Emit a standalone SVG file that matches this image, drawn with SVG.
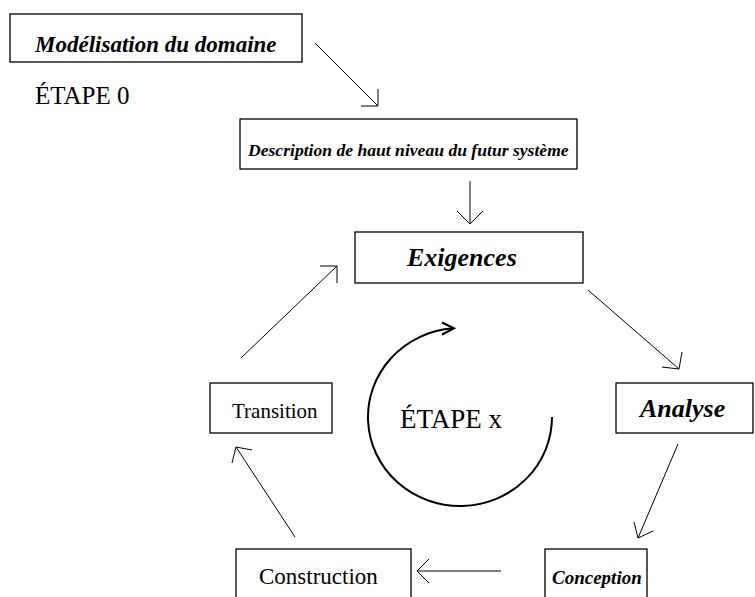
<svg xmlns="http://www.w3.org/2000/svg" width="755" height="597" viewBox="0 0 755 597">
<style>
.box{fill:#fff;stroke:#000;stroke-width:1.3}
.t{font-family:"Liberation Serif","Times New Roman",serif;fill:#000}
.bi{font-weight:bold;font-style:italic}
.ln{fill:none;stroke:#000;stroke-width:1}
.cyc{fill:none;stroke:#000;stroke-width:2}
</style>
<rect width="755" height="597" fill="#fff"/>
<g id="modelisation"><rect class="box" x="10" y="14" width="292" height="48"/><text class="t bi" x="35" y="52" font-size="23">Modélisation du domaine</text></g>
<g id="etape0"><text class="t" x="35" y="104" font-size="25">ÉTAPE 0</text></g>
<g id="description"><rect class="box" x="240" y="119" width="337" height="50"/><text class="t bi" x="248" y="156" font-size="17.6">Description de haut niveau du futur système</text></g>
<g id="exigences"><rect class="box" x="355" y="232" width="228" height="51"/><text class="t bi" x="407" y="266" font-size="26">Exigences</text></g>
<g id="analyse"><rect class="box" x="616" y="383" width="137" height="50"/><text class="t bi" x="640" y="417" font-size="26">Analyse</text></g>
<g id="conception"><rect class="box" x="545" y="549" width="102" height="60"/><text class="t bi" x="552" y="584" font-size="19">Conception</text></g>
<g id="construction"><rect class="box" x="236" y="549" width="175" height="60"/><text class="t" x="259" y="584" font-size="23">Construction</text></g>
<g id="transition"><rect class="box" x="210" y="383" width="122" height="50"/><text class="t" x="232" y="418" font-size="21">Transition</text></g>
<g id="etapex"><path class="cyc" d="M552 417 A92 89 0 1 1 453 328.3"/><polyline class="cyc" points="442,322.5 454,328.3 442,334.5"/><text class="t" x="400" y="428" font-size="27">ÉTAPE x</text></g>
<g id="connectors">
<line class="ln" x1="315" y1="43" x2="378" y2="106"/><polyline class="ln" points="361,106 378,106 378,89"/>
<line class="ln" x1="470" y1="181" x2="470" y2="224"/><polyline class="ln" points="457,211 470,224 483,211"/>
<line class="ln" x1="588" y1="290" x2="679" y2="369"/><polyline class="ln" points="662,367 679,369 682,352"/>
<line class="ln" x1="678" y1="444" x2="638" y2="538"/><polyline class="ln" points="634,522 638,538 653,531"/>
<line class="ln" x1="501" y1="571" x2="417" y2="571"/><polyline class="ln" points="429,559 417,571 429,583"/>
<line class="ln" x1="295" y1="537" x2="236" y2="447"/><polyline class="ln" points="232,463 236,447 252,450"/>
<line class="ln" x1="241" y1="358" x2="337" y2="266"/><polyline class="ln" points="320,266 337,266 337,283"/>
</g>
</svg>
